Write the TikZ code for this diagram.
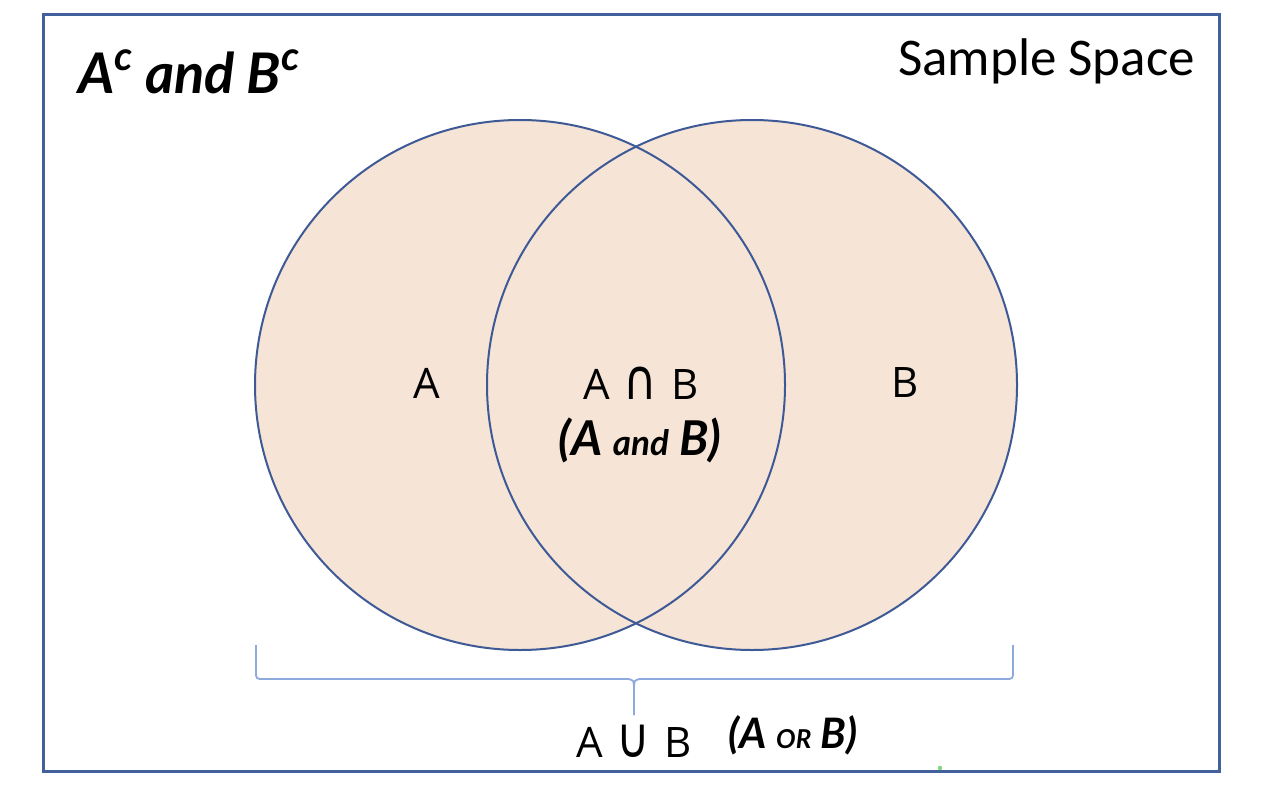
\documentclass[tikz,border=0pt]{standalone}
\usepackage{fontspec}
\usepackage{graphicx}
\setmainfont{Open Sans}
\newfontfamily\calib{Carlito}
\newfontfamily\symf{DejaVu Sans}
\newfontfamily\hand{Lato}
\definecolor{venn}{HTML}{F6E4D7}
\definecolor{edge}{HTML}{3E5A96}
\definecolor{frame}{HTML}{42609B}
\definecolor{brace}{HTML}{8EA9DB}
\definecolor{dot}{HTML}{7ED67E}
\newcommand{\mycap}{{\symf\fontsize{40}{48}\selectfont\scalebox{1.15}[1.4]{∩}}}
\newcommand{\mycup}{{\symf\fontsize{40}{48}\selectfont\scalebox{1.15}[1.4]{∪}}}
\tikzset{
  setlabel/.style={inner sep=0pt, font=\fontsize{42}{50}\selectfont},
  handlabel/.style={inner sep=0pt, font=\hand\bfseries\itshape},
  circline/.style={draw=edge, line width=2pt},
  bracestyle/.style={draw=brace, line width=1.8pt, line join=round},
}
\begin{document}
\begin{tikzpicture}[x=1pt,y=-1pt]
\useasboundingbox[fill=white] (0,0) rectangle (1265,805);
% sample space frame
\node[draw=frame, line width=3pt, minimum width=1176pt, minimum height=756pt, inner sep=0pt] (space) at (631,393) {};
% circles
\coordinate (cA) at (520,385);
\coordinate (cB) at (752,385);
\fill[venn] (cA) circle[radius=265];
\fill[venn] (cB) circle[radius=265];
\draw[circline] (cA) circle[radius=265];
\draw[circline] (cB) circle[radius=265];
% labels
\node[setlabel] (la) at (427,383) {A};
\node[setlabel] (lb) at (905,383) {B};
\node[setlabel] (lab) at (641,383) {A\,\,\mycap\,\,B};
\node[handlabel, font=\hand\bfseries\itshape\fontsize{48}{54}\selectfont] (andtxt) at (640,440) {(A {\fontsize{35}{40}\selectfont and} B)};
\node[anchor=base west, inner sep=0pt, font=\calib\fontsize{53}{60}\selectfont] (ss) at (898,76) {Sample Space};
\node[anchor=base west, inner sep=0pt, font=\hand\bfseries\itshape\fontsize{56}{64}\selectfont] (comp) at (78,94) {A\raisebox{0.42em}{\fontsize{40}{46}\selectfont c} and B\raisebox{0.42em}{\fontsize{40}{46}\selectfont c}};
% brace
\coordinate (bl) at (256,645);
\coordinate (br) at (1013,645);
\coordinate (tip) at (634,715);
\draw[bracestyle] (bl) -- (256,671) .. controls (256,679) .. (264,679) -- (624,679)
  .. controls (634,679) .. (634,692) -- (tip);
\draw[bracestyle] (tip) -- (634,692) .. controls (634,679) .. (644,679) -- (1005,679)
  .. controls (1013,679) .. (1013,671) -- (br);
\node[setlabel, anchor=north] (union) at (tip |- 0,725) {A\,\,\mycup\,\,B};
\node[handlabel, font=\hand\bfseries\itshape\fontsize{42}{48}\selectfont] (ortxt) at (793,735) {(A {\fontsize{26}{30}\selectfont OR} B)};
\fill[dot] (940,768) circle[radius=2.2];
\end{tikzpicture}
\end{document}
